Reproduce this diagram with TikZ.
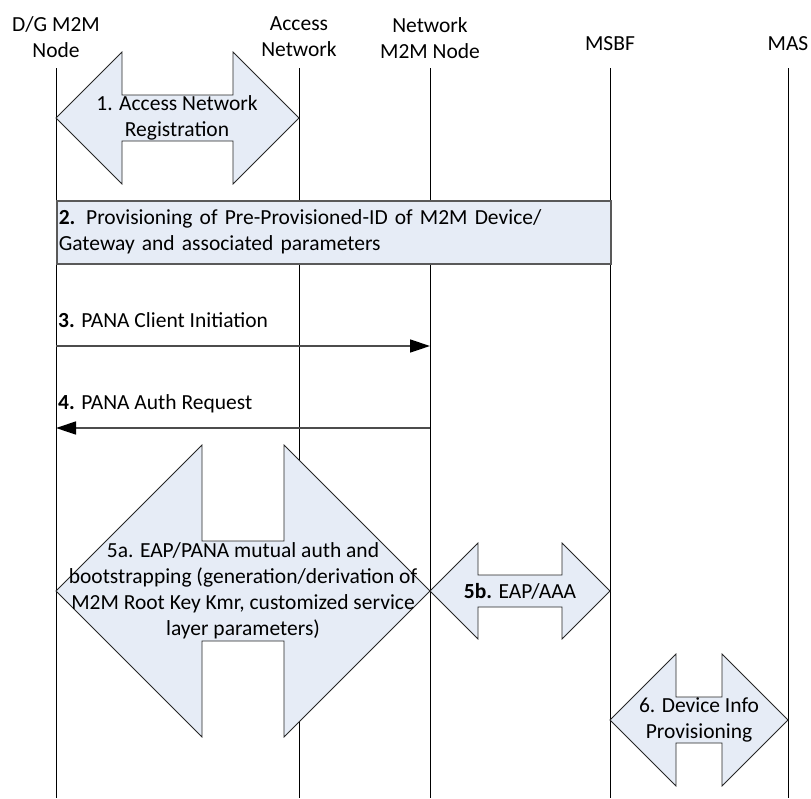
\documentclass[tikz,border=0pt]{standalone}
\usepackage{fontspec}
\setmainfont{Carlito}
\usepackage{tikz}
\usetikzlibrary{arrows.meta}
\definecolor{flowfill}{RGB}{230,236,246}
\definecolor{boxline}{RGB}{89,89,89}
\newcommand{\twoway}[5]{\filldraw[flow] (#1pt,-#3pt) -- ({#1pt+#4pt},{-#3pt+#4pt}) -- ({#1pt+#4pt},{-#3pt+#5pt}) -- ({#2pt-#4pt},{-#3pt+#5pt}) -- ({#2pt-#4pt},{-#3pt+#4pt}) -- (#2pt,-#3pt) -- ({#2pt-#4pt},{-#3pt-#4pt}) -- ({#2pt-#4pt},{-#3pt-#5pt}) -- ({#1pt+#4pt},{-#3pt-#5pt}) -- ({#1pt+#4pt},{-#3pt-#4pt}) -- cycle;}

\begin{document}
\begin{tikzpicture}[txt/.style={font=\fontsize{21.5}{26}\selectfont, align=center, inner sep=0pt}, life/.style={black, line width=0.9pt}, flow/.style={fill=flowfill, draw=black!85, line width=0.8pt}, msg/.style={black!70, line width=1.4pt, -{Triangle[length=20pt,width=13pt,color=black]}}, provbox/.style={fill=flowfill, draw=boxline, line width=1.5pt, anchor=north west, minimum width=554pt, minimum height=63pt, inner xsep=2pt, text width=550pt, align=left, font=\fontsize{21.5}{26}\selectfont}]
\useasboundingbox (0pt,0pt) rectangle (811pt,-798pt);
\node[txt] (dg) at (56pt,-37pt) {D/G M2M\\Node};
\node[txt] (an) at (299pt,-37pt) {Access\\Network};
\node[txt] (nn) at (430pt,-38pt) {Network\\M2M Node};
\node[txt] (msbf) at (610pt,-44pt) {MSBF};
\node[txt] (mas) at (788pt,-44pt) {MAS};
\foreach \x/\n in {56/dg,299/an,430/nn,610/msbf,788/mas} \draw[life] (\x pt,-68pt) coordinate (\n-top) -- (\x pt,-798pt) coordinate (\n-end);
\twoway{56}{299}{118}{66}{23}
\node[txt] (s1) at (177pt,-118pt) {1. Access Network\\Registration};
\node[provbox] (s2) at (56pt,-200pt) {\textbf{2.} Provisioning of Pre-Provisioned-ID of M2M Device/\\Gateway and associated parameters};
\coordinate (m3s) at (56pt,-346pt); \coordinate (m3e) at (430pt,-346pt);
\draw[msg] (m3s) -- (m3e);
\node[txt, anchor=west] (s3) at (58pt,-320pt) {\textbf{3.} PANA Client Initiation};
\coordinate (m4s) at (430pt,-428pt); \coordinate (m4e) at (56pt,-428pt);
\draw[msg] (m4s) -- (m4e);
\node[txt, anchor=west] (s4) at (58pt,-404pt) {\textbf{4.} PANA Auth Request};
\twoway{56}{430}{591}{146}{50}
\node[txt] (s5a) at (243pt,-591pt) {5a. EAP/PANA mutual auth and\\bootstrapping (generation/derivation of\\M2M Root Key Kmr, customized service\\layer parameters)};
\twoway{430}{610}{591}{48}{16}
\node[txt] (s5b) at (520pt,-591pt) {\textbf{5b.} EAP/AAA};
\twoway{610}{788}{720}{66}{23}
\node[txt] (s6) at (699pt,-720pt) {6. Device Info\\Provisioning};
\end{tikzpicture}
\end{document}
